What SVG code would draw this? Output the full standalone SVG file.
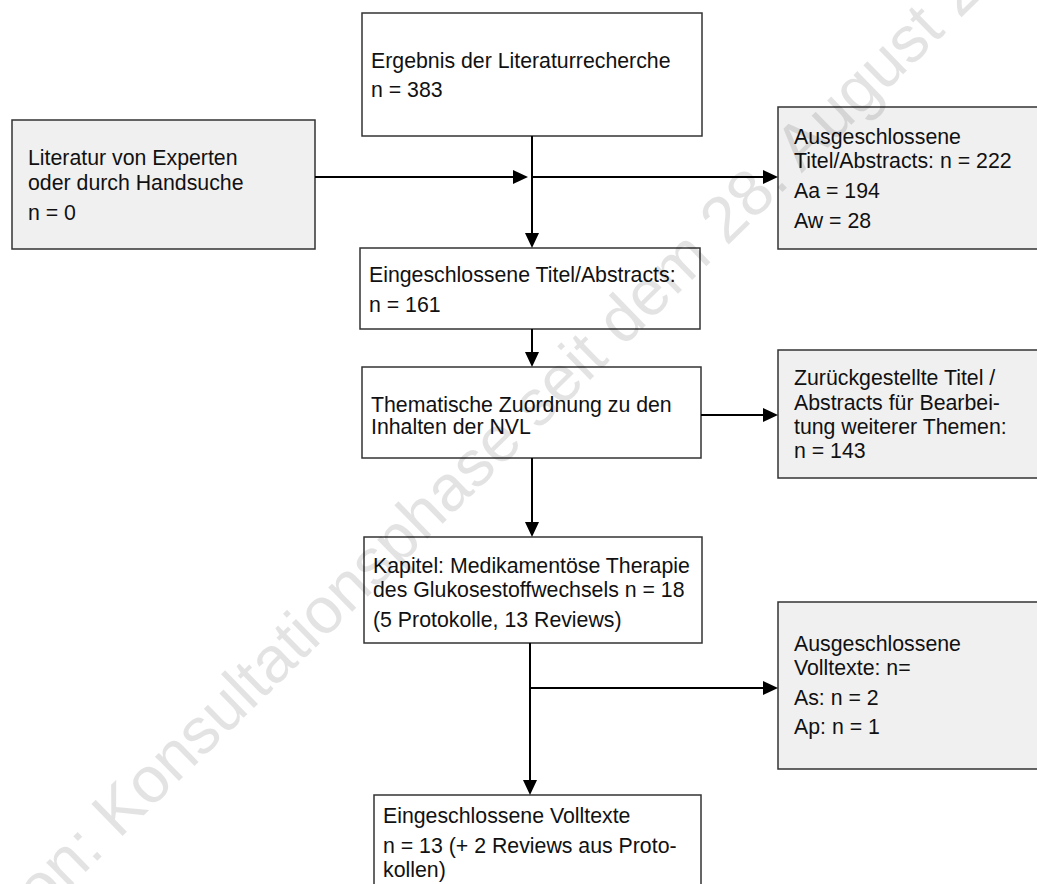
<svg xmlns="http://www.w3.org/2000/svg" width="1037" height="884" viewBox="0 0 1037 884">
<defs>
<style>
.box{stroke:#333;stroke-width:1.5;fill:#fff}
.gbox{stroke:#333;stroke-width:1.5;fill:#f0f0f0}
.t{font-family:"Liberation Sans",Arial,sans-serif;font-size:21.3px;fill:#111}
.c{stroke:#000;stroke-width:2;fill:none;marker-end:url(#ah)}
.l{stroke:#000;stroke-width:2;fill:none}
.wm{font-family:"Liberation Sans",Arial,sans-serif;font-size:65px;fill:#000;fill-opacity:0.11}
</style>
<marker id="ah" markerUnits="userSpaceOnUse" markerWidth="15" markerHeight="14" refX="12" refY="7" orient="auto">
<path d="M0,0 L15,7 L0,14 z" fill="#000"/>
</marker>
</defs>
<rect width="1037" height="884" fill="#fff"/>
<g id="n1"><rect class="box" x="362" y="13" width="340" height="123"/>
<text class="t" x="371" y="68">Ergebnis der Literaturrecherche</text>
<text class="t" x="371" y="97">n = 383</text></g>
<g id="n2"><rect class="gbox" x="12" y="120" width="303" height="129"/>
<text class="t" x="28" y="165">Literatur von Experten</text>
<text class="t" x="28" y="190">oder durch Handsuche</text>
<text class="t" x="28" y="220">n = 0</text></g>
<g id="n3"><rect class="gbox" x="778" y="107" width="262" height="142"/>
<text class="t" x="794" y="144">Ausgeschlossene</text>
<text class="t" x="794" y="168">Titel/Abstracts: n = 222</text>
<text class="t" x="794" y="198">Aa = 194</text>
<text class="t" x="794" y="228">Aw = 28</text></g>
<g id="n4"><rect class="box" x="360" y="248" width="340" height="81"/>
<text class="t" x="369" y="282">Eingeschlossene Titel/Abstracts:</text>
<text class="t" x="369" y="312">n = 161</text></g>
<g id="n5"><rect class="box" x="362" y="367" width="339" height="91"/>
<text class="t" x="371" y="412">Thematische Zuordnung zu den</text>
<text class="t" x="371" y="434">Inhalten der NVL</text></g>
<g id="n6"><rect class="gbox" x="778" y="350" width="262" height="128"/>
<text class="t" x="794" y="385">Zurückgestellte Titel /</text>
<text class="t" x="794" y="410">Abstracts für Bearbei-</text>
<text class="t" x="794" y="434">tung weiterer Themen:</text>
<text class="t" x="794" y="458">n = 143</text></g>
<g id="n7"><rect class="box" x="364" y="537" width="338" height="106"/>
<text class="t" x="373" y="573">Kapitel: Medikamentöse Therapie</text>
<text class="t" x="373" y="597">des Glukosestoffwechsels n = 18</text>
<text class="t" x="373" y="627">(5 Protokolle, 13 Reviews)</text></g>
<g id="n8"><rect class="gbox" x="778" y="602" width="262" height="167"/>
<text class="t" x="794" y="651">Ausgeschlossene</text>
<text class="t" x="794" y="675">Volltexte: n=</text>
<text class="t" x="794" y="705">As: n = 2</text>
<text class="t" x="794" y="734">Ap: n = 1</text></g>
<g id="n9"><rect class="box" x="374" y="795" width="327" height="110"/>
<text class="t" x="383" y="823">Eingeschlossene Volltexte</text>
<text class="t" x="383" y="853">n = 13 (+ 2 Reviews aus Proto-</text>
<text class="t" x="383" y="877">kollen)</text></g>
<g id="connectors">
<line class="c" x1="315" y1="177" x2="525" y2="177"/>
<line class="c" x1="532" y1="177" x2="775" y2="177"/>
<line class="c" x1="532" y1="136" x2="532" y2="245"/>
<line class="c" x1="532" y1="329" x2="532" y2="364"/>
<line class="c" x1="701" y1="415" x2="775" y2="415"/>
<line class="c" x1="532" y1="458" x2="532" y2="534"/>
<line class="c" x1="530" y1="643" x2="530" y2="792"/>
<line class="c" x1="530" y1="688" x2="775" y2="688"/>
</g>
<g id="watermark">
<text class="wm" transform="translate(118.5,840) rotate(-44.3)" x="-108">on: Konsultationsphase seit dem 28. August 2012</text>
</g>
</svg>
